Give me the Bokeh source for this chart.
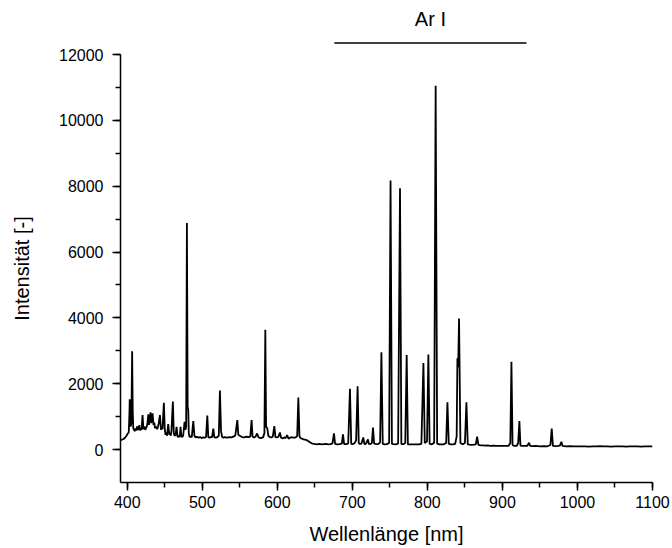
from bokeh.plotting import figure
from bokeh.layouts import column
from bokeh.models import Range1d, SingleIntervalTicker, ColumnDataSource
from bokeh.core.properties import value
from bokeh.embed import file_html
from bokeh.resources import INLINE

# ---- spectrum vertices (wavelength nm, intensity) ----
wavelength_nm = [
    391, 393, 395, 397, 399, 400.5, 402, 402.8, 403.3, 404, 404.5, 405.5, 406.5, 407.3, 408, 409,
    410, 411, 412, 413, 414, 415, 416, 417, 418, 419, 420.4, 421.5, 423, 424, 425, 426, 427, 428, 429,
    431, 432, 433.7, 435, 436, 437, 438.5, 440, 441, 442, 443.5, 445, 446, 447, 448.8, 450, 451, 452,
    453, 454.6, 456, 457, 458, 459, 460.8, 462, 463, 464.5, 465.7, 467, 468, 469, 470, 471, 472, 473,
    474.5, 476.4, 477.5, 478.5, 479.5, 480.5, 481.3, 482, 483,
    484, 486, 488, 489.5, 491, 493, 495, 497, 499, 501, 503, 505, 506.7, 508, 510, 512, 513, 514.7,
    516, 518, 520, 522, 523.5, 525, 526.5, 528, 530, 533, 536, 539, 542, 544, 546.7, 548, 550, 553,
    556, 559, 562, 564, 565.7, 567, 569, 571, 573, 575, 578, 581, 582.8, 584, 585, 586.7, 588, 590,
    592, 594, 596, 597.5, 599.5, 601.5, 603.5, 605, 607, 609, 611, 613, 615, 617, 619, 621, 623, 625,
    626.5, 628, 629.5, 631, 633, 635, 637, 639, 641, 643, 645, 647, 649, 651, 653, 656, 659, 662,
    665, 668, 671, 673.5, 675.5, 677, 680, 683, 686, 687.5, 689, 692, 694.5, 696.8, 698.5, 701, 703,
    705, 707, 708.5, 710, 712, 714.6, 716, 718, 720.8, 722, 724, 726, 727.5, 729, 731, 733, 735, 737,
    738.7, 740.5, 743, 746, 749, 750.9, 752.7, 755, 758, 761, 763.5, 765.3, 768, 770.5, 772.4, 774,
    777, 780, 783, 786, 789, 792, 794.7, 796.5, 799.5, 801.3, 803, 806, 809, 811, 813, 816, 819, 822,
    825, 826.7, 828.5, 831, 834, 837, 839, 840, 841, 842.2, 844, 847, 850, 852, 853.8, 856, 859, 862,
    864.5, 866.3, 868, 871, 874, 877, 880, 884, 888, 892, 896, 900, 904, 908, 910.5, 912, 913.5, 916,
    919, 921, 922.6, 924, 927, 930, 933, 935.5, 937, 940, 945, 950, 955, 960, 964, 965.7, 967.3, 970,
    974, 976.5, 978.6, 980, 985, 990, 995, 1000, 1005, 1010, 1015, 1020, 1025, 1030, 1035, 1040,
    1045, 1050, 1055, 1060, 1065, 1070, 1075, 1080, 1085, 1090, 1095, 1100,
]
intensity = [
    290, 300, 320, 360, 420, 480, 520, 1000, 1530, 1200, 700, 800, 2990, 1200, 650, 600,
    560, 640, 580, 700, 600, 620, 740, 580, 650, 600, 1050, 620, 700, 600, 650, 700, 800, 1070, 750,
    1130, 800, 1100, 750, 820, 650, 700, 620, 700, 800, 1050, 600, 700, 620, 1420, 620, 450, 520,
    420, 775, 450, 500, 420, 600, 1460, 500, 420, 450, 690, 400, 380, 420, 380, 690, 420, 380,
    420, 840, 600, 700, 6880, 1300, 1200, 500, 380,
    400, 380, 865, 420, 370, 390, 360, 380, 350, 370, 360, 380, 1035, 380, 360, 390, 370, 640,
    380, 360, 380, 420, 1790, 560, 380, 360, 380, 360, 375, 370, 400, 430, 895, 450, 420, 380,
    370, 390, 380, 400, 895, 390, 370, 390, 490, 370, 350, 370, 500, 3640, 700, 640, 420, 380,
    370, 400, 710, 380, 370, 390, 520, 360, 340, 370, 350, 440, 330, 360, 380, 360, 360, 380,
    420, 1580, 400, 350, 330, 310, 300, 290, 260, 230, 200, 180, 170, 165, 160, 170, 160, 165,
    170, 160, 165, 190, 490, 170, 160, 165, 180, 460, 170, 165, 190, 1845, 175, 165, 200,
    280, 1925, 200, 170, 180, 370, 165, 170, 310, 170, 165, 200, 670, 180, 170, 165, 175, 220,
    2955, 170, 160, 165, 200, 8170, 175, 165, 160, 180, 7940, 170, 165, 200, 2870, 160,
    155, 160, 155, 160, 155, 175, 2630, 200, 250, 2890, 170, 160, 210, 11050, 180, 160, 155, 160,
    200, 1440, 170, 160, 155, 170, 400, 2770, 2500, 3980, 200, 160, 200, 1440, 160, 150, 145, 150,
    160, 390, 140, 130, 125, 120, 125, 115, 120, 110, 115, 110, 115, 110, 200, 2670, 140, 110,
    115, 200, 865, 120, 110, 115, 110, 207, 110, 105, 110, 100, 105, 100, 140, 640, 110, 105,
    110, 120, 237, 110, 100, 105, 95, 100, 95, 100, 90, 100, 95, 105, 95, 100,
    90, 100, 95, 100, 90, 100, 95, 100, 90, 100, 95, 100,
]

# axis ticks
x_tick_interval = 100
y_tick_interval = 2000

# Ar I annotation (wavelength span of the bracket line and its label)
ar_label = "Ar I"
ar_start_nm = 676
ar_end_nm = 932

x_title = "Wellenlänge [nm]"
y_title = "Intensität [-]"

FONT = "Liberation Sans"
x_range = Range1d(391, 1100)

# --- strip above the plot carrying the "Ar I" bracket ---
top = figure(
    width=672, height=44, output_backend="svg", toolbar_location=None,
    x_range=x_range, y_range=Range1d(0, 44),
    x_axis_location=None, y_axis_location=None,
    min_border_left=120, min_border_right=20, min_border_top=0, min_border_bottom=0,
)
top.grid.visible = False
top.outline_line_color = None
top.line([ar_start_nm, ar_end_nm], [1.4, 1.4], line_color="black", line_width=1.5)
top.text([(ar_start_nm + ar_end_nm) / 2], [26], text=[ar_label],
         text_font=value(FONT), text_font_size="20px", text_align="center",
         text_baseline="alphabetic", text_color="black")

# --- main spectrum plot ---
p = figure(
    width=672, height=504,
    output_backend="svg", toolbar_location=None,
    x_range=x_range, y_range=Range1d(-1000, 12000),
    min_border_left=120, min_border_right=20, min_border_top=10, min_border_bottom=66,
)
p.grid.visible = False
p.outline_line_color = None
p.background_fill_color = "white"
p.border_fill_color = "white"

src = ColumnDataSource(dict(x=wavelength_nm, y=intensity))
p.line("x", "y", source=src, line_color="black", line_width=1.8)

for ax in (p.xaxis[0], p.yaxis[0]):
    ax.axis_line_color = "black"
    ax.axis_line_width = 1.5
    ax.major_tick_line_color = "black"
    ax.major_tick_line_width = 1.5
    ax.minor_tick_line_color = "black"
    ax.minor_tick_line_width = 1.5
    ax.major_tick_in = 0
    ax.major_tick_out = 8
    ax.minor_tick_in = 0
    ax.minor_tick_out = 5
    ax.major_label_text_font = FONT
    ax.major_label_text_font_size = "16px"
    ax.major_label_text_color = "black"
    ax.axis_label_text_font = FONT
    ax.axis_label_text_font_size = "20px"
    ax.axis_label_text_font_style = "normal"
    ax.axis_label_text_color = "black"

p.xaxis.ticker = SingleIntervalTicker(interval=x_tick_interval, num_minor_ticks=2)
p.yaxis.ticker = SingleIntervalTicker(interval=y_tick_interval, num_minor_ticks=2)
p.yaxis.bounds = (-999, 12000)
p.xaxis.axis_label = x_title
p.yaxis.axis_label = y_title
p.xaxis.major_label_standoff = 5
p.xaxis.axis_label_standoff = 12
p.yaxis.major_label_standoff = 9
p.yaxis.axis_label_standoff = 23

layout = column(top, p, spacing=0)
open("out.html", "w").write(file_html(layout, INLINE))
